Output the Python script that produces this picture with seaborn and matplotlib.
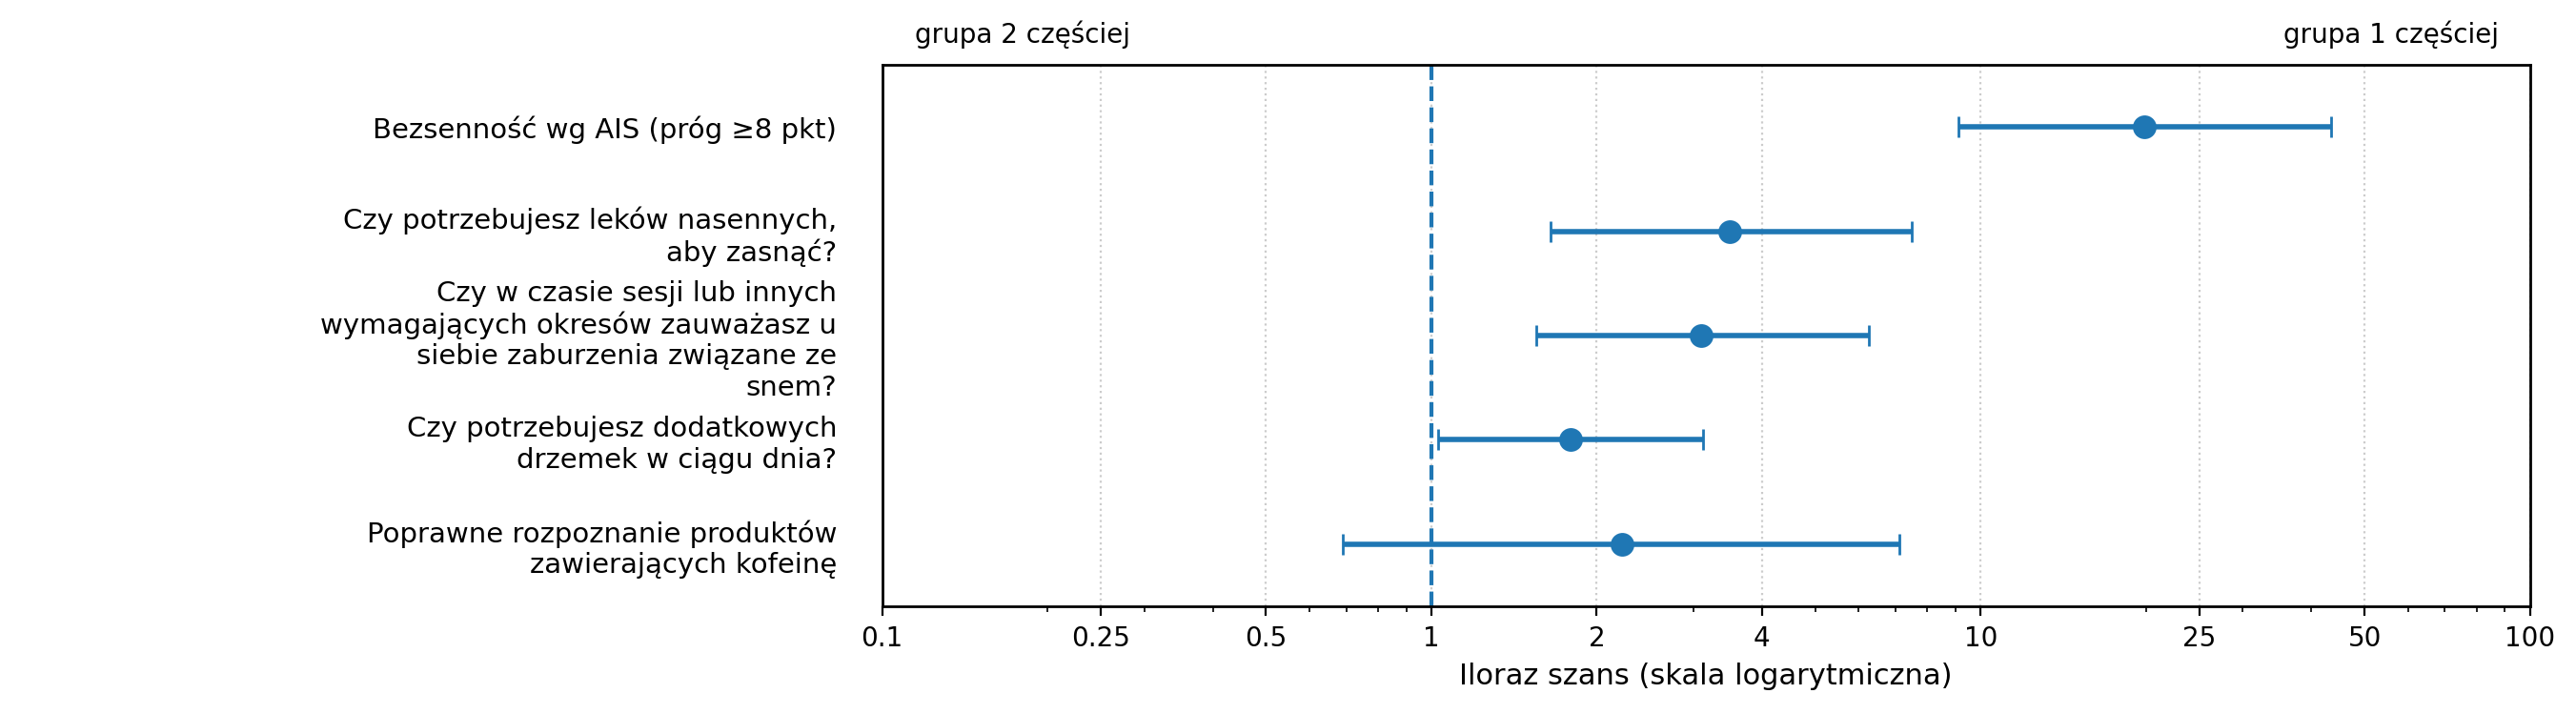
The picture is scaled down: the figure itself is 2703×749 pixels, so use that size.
import numpy as np
import pandas as pd
import matplotlib
matplotlib.use("Agg")
import matplotlib.pyplot as plt
import matplotlib.ticker as mticker
import seaborn as sns

# (iloraz szans, 95% CI)
labels = [
    "Bezsenność wg AIS (próg ≥8 pkt)",
    "Czy potrzebujesz leków nasennych,\naby zasnąć?",
    "Czy w czasie sesji lub innych\nwymagających okresów zauważasz u\nsiebie zaburzenia związane ze\nsnem?",
    "Czy potrzebujesz dodatkowych\ndrzemek w ciągu dnia?",
    "Poprawne rozpoznanie produktów\nzawierających kofeinę",
]
odds = [19.9, 3.5, 3.1, 1.79, 2.22]
ci_low = [9.1, 1.65, 1.55, 1.03, 0.69]
ci_high = [43.4, 7.5, 6.25, 3.12, 7.1]
ticks = [0.1, 0.25, 0.5, 1, 2, 4, 10, 25, 50, 100]
tick_labels = ["0.1", "0.25", "0.5", "1", "2", "4", "10", "25", "50", "100"]

df = pd.DataFrame({"label": labels, "or": odds, "lo": ci_low, "hi": ci_high})
df["pos"] = np.arange(len(df))

plt.rcParams["font.family"] = ["DejaVu Sans"]

fig = plt.figure(figsize=(13.515, 3.745), dpi=200)
ax = fig.add_axes([0.3424, 0.1503, 0.6397, 0.7592])

color = "#1f77b4"
ax.errorbar(df["or"], df["pos"],
            xerr=[df["or"] - df["lo"], df["hi"] - df["or"]],
            fmt="none", ecolor=color, elinewidth=2, capsize=4, capthick=1, zorder=2)
sns.scatterplot(data=df, x="or", y="pos", ax=ax, color=color, s=80,
                edgecolor=color, linewidth=0, zorder=3, legend=False)

ax.axvline(1, color=color, linestyle="--", linewidth=1.5, zorder=1)

ax.set_xscale("log")
ax.set_xlim(0.1, 100)
ax.set_xticks(ticks)
ax.set_xticklabels(tick_labels)
ax.xaxis.set_minor_formatter(mticker.NullFormatter())
ax.grid(axis="x", which="major", linestyle=":", color="#cccccc", linewidth=0.8)
ax.set_axisbelow(True)

ax.set_ylim(len(df) - 1 + 0.6, -0.6)
ax.set_yticks(df["pos"])
ax.set_yticklabels(df["label"], fontsize=10.5)
ax.tick_params(axis="y", length=0, pad=17)
ax.tick_params(axis="x", labelsize=10)
ax.set_xlabel("Iloraz szans (skala logarytmiczna)", fontsize=11)
ax.set_ylabel("")

for s in ax.spines.values():
    s.set_visible(True)
    s.set_color("black")
    s.set_linewidth(1)

ax.text(0.02, 1.055, "grupa 2 częściej", transform=ax.transAxes,
        ha="left", va="center", fontsize=10)
ax.text(0.981, 1.055, "grupa 1 częściej", transform=ax.transAxes,
        ha="right", va="center", fontsize=10)

fig.savefig("out.png", dpi=200)
